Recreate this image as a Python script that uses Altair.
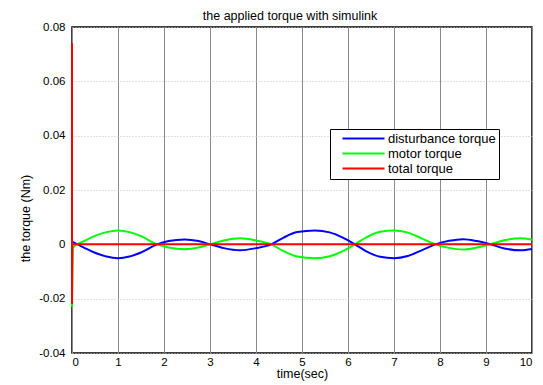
import altair as alt
import pandas as pd

# time (s) and disturbance torque (Nm)
t_dist = [0, 0.25, 0.5, 0.75, 1.0, 1.25, 1.5, 1.85, 2.1, 2.45, 2.75, 3.0, 3.3, 3.65, 4.0,
          4.33, 4.6, 4.9, 5.28, 5.6, 5.9, 6.15, 6.4, 6.7, 7.0, 7.3, 7.6, 7.9, 8.2, 8.5,
          8.8, 9.1, 9.4, 9.75, 10.0]
dist = [0.001, -0.0011, -0.0031, -0.0045, -0.0051, -0.0045, -0.0030, 0.0, 0.0012, 0.0018,
        0.0012, 0.0, -0.0014, -0.0022, -0.0014, 0.0, 0.0025, 0.0045, 0.0051, 0.0044,
        0.0024, 0.0, -0.0026, -0.0046, -0.0051, -0.0043, -0.0022, 0.0, 0.0013, 0.0019,
        0.0012, 0.0, -0.0015, -0.0022, -0.0017]

# motor torque
t_motor = [0, 0.02, 0.25, 0.5, 0.75, 1.0, 1.25, 1.5, 1.85, 2.1, 2.45, 2.75, 3.0, 3.3, 3.65,
           4.0, 4.33, 4.6, 4.9, 5.28, 5.6, 5.9, 6.15, 6.4, 6.7, 7.0, 7.3, 7.6, 7.9, 8.2,
           8.5, 8.8, 9.1, 9.4, 9.75, 10.0]
motor = [-0.023, -0.0012, 0.0011, 0.0031, 0.0045, 0.0051, 0.0045, 0.0030, 0.0, -0.0012,
         -0.0018, -0.0012, 0.0, 0.0014, 0.0022, 0.0014, 0.0, -0.0025, -0.0045, -0.0051,
         -0.0044, -0.0024, 0.0, 0.0026, 0.0046, 0.0051, 0.0043, 0.0022, 0.0, -0.0013,
         -0.0019, -0.0012, 0.0, 0.0015, 0.0022, 0.0017]

# total torque
t_total = [0, 0, 0.01, 10.0]
total = [0.074, -0.022, 0.0, 0.0]

series_names = ["disturbance torque", "motor torque", "total torque"]
series_colors = ["#0000ff", "#00ff00", "#ff0000"]

x_ticks = list(range(0, 11))
y_ticks = [-0.04, -0.02, 0, 0.02, 0.04, 0.06, 0.08]

rows = []
for name, ts, vs in [(series_names[0], t_dist, dist), (series_names[1], t_motor, motor)]:
    for i, (t, v) in enumerate(zip(ts, vs)):
        rows.append({"series": name, "t": t, "v": v, "i": i})
smooth = pd.DataFrame(rows)
tot = pd.DataFrame({"series": series_names[2], "t": t_total, "v": total,
                    "i": list(range(len(total)))})

color = alt.Color("series:N",
                  scale=alt.Scale(domain=series_names, range=series_colors),
                  legend=alt.Legend(title=None, orient="none", legendX=258, legendY=102,
                                    strokeColor="black", fillColor="white", padding=3,
                                    symbolType="M-6,0H6", symbolSize=49,
                                    symbolStrokeWidth=2, symbolOffset=24,
                                    labelOffset=18, rowPadding=1,
                                    labelFont="Liberation Sans", labelFontSize=13,
                                    labelColor="black", labelLimit=300))

x = alt.X("t:Q", scale=alt.Scale(domain=[0, 10], nice=False),
          axis=alt.Axis(values=x_ticks, title="time(sec)", format="d",
                        grid=True, gridColor="#8a8a8a", gridWidth=1,
                        domain=False, ticks=False, labelPadding=3,
                        titlePadding=0))
y = alt.Y("v:Q", scale=alt.Scale(domain=[-0.04, 0.08], nice=False, zero=False),
          axis=alt.Axis(values=y_ticks, title="the torque (Nm)",
                        labelExpr="datum.value == 0 ? '0' : replace(format(datum.value, '.2f'), '\u2212', '-')",
                        grid=True, gridColor="#c4c4c4", gridDash=[1, 2], gridWidth=1,
                        domain=False, ticks=False, labelPadding=7,
                        titleX=-40, titleY=191, titleAngle=270))

l1 = alt.Chart(smooth).mark_line(strokeWidth=2, interpolate="monotone").encode(
    x=x, y=y, color=color, order="i:Q")
l2 = alt.Chart(tot).mark_line(strokeWidth=2).encode(
    x=x, y=y, color=color, order="i:Q")

chart = alt.layer(l1, l2).properties(
    width=460, height=326,
    autosize=alt.AutoSizeParams(type="none"),
    padding={"left": 64, "top": 19, "right": 3, "bottom": 31},
    title=alt.TitleParams("the applied torque with simulink", fontSize=12.5,
                          fontWeight="normal", font="Liberation Sans",
                          anchor="middle", dx=-12, offset=-1, color="black"),
).configure_view(stroke="black", strokeWidth=1.5).configure_axis(
    labelFont="Liberation Sans", labelFontSize=11.5, labelColor="black",
    titleFont="Liberation Sans", titleFontSize=12.5, titleFontWeight="normal",
    titleColor="black")

chart.save("out.html", embed_options={"renderer": "svg", "actions": False})
